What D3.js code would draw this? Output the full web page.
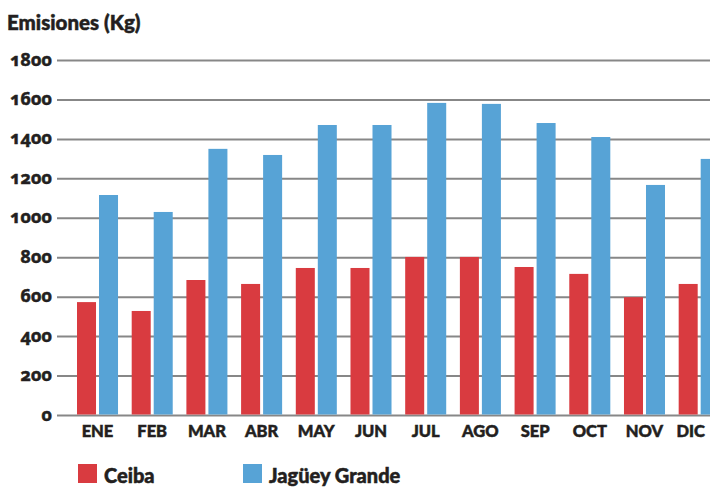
<!DOCTYPE html>
<html>
<head>
<meta charset="utf-8">
<script src="https://cdn.jsdelivr.net/npm/d3@7/dist/d3.min.js"></script>
<style>
  html, body { margin: 0; padding: 0; background: #fff; }
  svg { display: block; font-family: Lato, "Open Sans", sans-serif; }
  .t { fill: #231f20; font-weight: 900; stroke: #231f20; stroke-width: 0.5px; }
  .num { font-family: "Noto Sans", "Open Sans", sans-serif; font-weight: 700;
         font-variant-numeric: oldstyle-nums; font-feature-settings: "onum" 1; }
</style>
</head>
<body>
<svg id="chart" width="710" height="488"></svg>
<script>
// Monthly emissions (kg) for the two municipalities
const months = ["ENE","FEB","MAR","ABR","MAY","JUN","JUL","AGO","SEP","OCT","NOV","DIC"];
const ceiba = [575, 530, 687, 667, 748, 748, 804, 804, 753, 718, 600, 667];
const jagueyGrande = [1118, 1032, 1352, 1321, 1473, 1473, 1585, 1580, 1483, 1412, 1169, 1301];
const seriesNames = ["Ceiba", "Jagüey Grande"];
const seriesColors = ["#d93b40", "#57a3d6"];
const yTicks = [0, 200, 400, 600, 800, 1000, 1200, 1400, 1600, 1800];

const W = 710;
const svg = d3.select("#chart");

const y = d3.scaleLinear().domain([0, 1800]).range([415.5, 60.5]);

const x = d3.scaleBand()
  .domain(months)
  .range([77, 719.7])
  .paddingInner(0.25)
  .paddingOuter(0);

const xs = d3.scaleBand()
  .domain(seriesNames)
  .range([0, x.bandwidth()])
  .paddingInner(0.136);

// Title
svg.append("text")
  .attr("class", "t")
  .attr("x", 7).attr("y", 30)
  .attr("font-size", 20.5)
  .text("Emisiones (Kg)");

// Horizontal grid lines with tick labels
const grid = svg.append("g");
grid.selectAll("line")
  .data(yTicks)
  .join("line")
  .attr("x1", 57).attr("x2", W)
  .attr("y1", d => y(d)).attr("y2", d => y(d))
  .attr("stroke", "#878787")
  .attr("stroke-width", 2);

grid.selectAll("text")
  .data(yTicks)
  .join("text")
  .attr("class", "t num")
  .attr("x", 52)
  .attr("y", d => y(d) + 5)
  .attr("text-anchor", "end")
  .attr("font-size", 18)
  .text(d => d);

// Bars
const rows = months.map((m, i) => ({ month: m, values: [ceiba[i], jagueyGrande[i]] }));
const groups = svg.append("g")
  .selectAll("g")
  .data(rows)
  .join("g")
  .attr("transform", d => `translate(${x(d.month)},0)`);

groups.selectAll("rect")
  .data(d => d.values.map((v, k) => ({ name: seriesNames[k], value: v, k })))
  .join("rect")
  .attr("x", d => xs(d.name))
  .attr("width", xs.bandwidth())
  .attr("y", d => y(d.value))
  .attr("height", d => y(0) - y(d.value) - 1)
  .attr("fill", d => seriesColors[d.k]);

// Month labels, kept inside the right edge
svg.append("g")
  .selectAll("text")
  .data(months)
  .join("text")
  .attr("class", "t")
  .attr("y", 437)
  .attr("text-anchor", "middle")
  .attr("font-size", 16.5)
  .text(d => d)
  .attr("x", function (d) {
    const c = x(d) + x.bandwidth() / 2;
    const half = this.getComputedTextLength() / 2;
    return Math.min(c, W - 5 - half);
  });

// Legend
const legendX = [78, 243];
const legend = svg.append("g")
  .selectAll("g")
  .data(seriesNames)
  .join("g")
  .attr("transform", (d, i) => `translate(${legendX[i]},464)`);

legend.append("rect")
  .attr("width", 19).attr("height", 19)
  .attr("fill", (d, i) => seriesColors[i]);

legend.append("text")
  .attr("class", "t")
  .attr("x", 26).attr("y", 19)
  .attr("font-size", 20)
  .text(d => d);
</script>
</body>
</html>
